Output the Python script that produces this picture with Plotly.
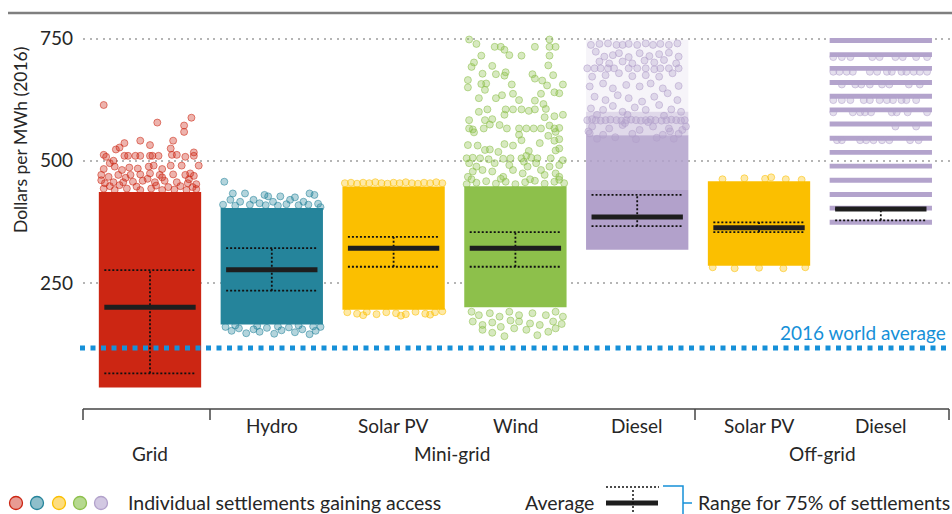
import plotly.graph_objects as go

# ---------------- data ----------------
categories = ["Grid", "Hydro", "Solar PV", "Wind", "Diesel", "Solar PV", "Diesel"]
group_labels = ["Mini-grid", "Off-grid"]
average = [200, 277, 321, 321, 385, 363, 401]
range_low = [65, 234, 283, 283, 366, 354, 378]
range_high = [276, 321, 344, 354, 430, 374, 401]
dense_low = [36, 165, 195, 200, 318, 285]
dense_high = [436, 403, 447, 448, 440, 458]
diesel_haze_low = [440, 552, 600]
diesel_haze_high = [552, 600, 748]
offgrid_diesel_bands = [374, 403, 431, 460, 489, 517, 546, 575, 604, 632, 660, 689, 717, 746]
world_average = 117

grid_j = [-0.38, 0.06, 0.34, 0.28, 0.28, 0.19, -0.08, -0.21, -0.25, -0.28, 0.00, 0.17, 0.36,
          -0.38, -0.36, -0.21, -0.18, -0.12, -0.08, 0.00, 0.02, 0.07, 0.18, 0.22, 0.29, 0.36,
          0.40, -0.30, -0.33, -0.38, -0.40, -0.29, -0.23, -0.17, -0.10, -0.01, 0.03, 0.10, 0.17, 0.26, 0.33, 0.36,
          -0.34, -0.26, -0.16, -0.08, 0.00, 0.08, 0.19, 0.29,
          -0.37, -0.30, -0.22, -0.14, -0.06, 0.04, 0.12, 0.22, 0.31, 0.38,
          -0.38, -0.29, -0.19, -0.08, 0.01, 0.10, 0.20, 0.30, 0.38,
          -0.33, -0.25, -0.11, 0.05, 0.15, 0.25, 0.35, -0.40, -0.02, 0.32, -0.20, 0.10]
grid_v = [614, 578, 588, 572, 559, 541, 541, 536, 527, 523, 532, 525, 517,
          512, 508, 510, 510, 510, 510, 510, 510, 510, 512, 512, 508, 510,
          490, 500, 495, 483, 471, 488, 481, 486, 484, 488, 490, 483, 490, 490, 474, 469,
          467, 471, 471, 472, 474, 471, 472, 471,
          454, 456, 456, 457, 459, 456, 459, 456, 454, 452,
          443, 440, 443, 440, 443, 440, 441, 440, 442,
          448, 450, 447, 449, 446, 448, 446, 460, 463, 462, 465, 466]

hydro_j = [-0.34, -0.32, -0.26, -0.22, -0.15, -0.10, -0.06, -0.03, 0.01, 0.07, 0.15, 0.19, 0.26, 0.31, 0.35,
           -0.39, -0.40, -0.30, -0.18, -0.05, 0.05, 0.12, 0.22, 0.30, 0.38, 0.40,
           -0.38, -0.33, -0.27, -0.21, -0.15, -0.10, -0.04, 0.02, 0.08, 0.14, 0.19, 0.25, 0.31, 0.36, 0.40,
           -0.30, -0.12, 0.05, 0.22, 0.34]
hydro_v = [420, 433, 416, 433, 420, 413, 430, 427, 416, 427, 420, 425, 416, 433, 430,
           457, 410, 408, 410, 409, 408, 411, 409, 410, 412, 405,
           160, 152, 157, 147, 155, 150, 158, 146, 153, 159, 149, 155, 145, 152, 160,
           163, 162, 161, 163, 161]

solar_j = [-0.40, -0.35, -0.30, -0.25, -0.20, -0.15, -0.10, -0.05, 0.00, 0.05, 0.10, 0.15, 0.20, 0.25, 0.30, 0.35, 0.40,
           -0.38, -0.30, -0.22, -0.14, -0.06, 0.02, 0.10, 0.18, 0.26, 0.34, 0.40, -0.25, 0.06, 0.30]
solar_v = [454, 455, 453, 455, 454, 456, 454, 453, 455, 454, 456, 454, 453, 455, 454, 456, 454,
           190, 187, 191, 186, 190, 188, 186, 191, 187, 190, 192, 184, 183, 185]

wind_j = [-0.38, -0.32, -0.17, -0.12, -0.09, -0.05, 0.05, 0.16, 0.28, 0.33, 0.28, -0.28, 0.28,
          -0.34, -0.36, -0.19, 0.27, -0.27, -0.16, -0.08, -0.09, 0.14, 0.31, 0.16, 0.22, 0.26,
          -0.39, -0.39, -0.28, -0.24, -0.25, -0.03, 0.39, 0.32, 0.36, 0.21, -0.02, -0.11, -0.16,
          -0.30, 0.03, 0.16, 0.23, -0.30, -0.23, -0.08, -0.02, 0.05, 0.11, 0.16, 0.25,
          0.39, 0.32, 0.24, -0.09, -0.38, -0.25, -0.19, -0.13, -0.21, -0.35, -0.38, -0.26,
          -0.07, 0.03, 0.09, 0.15, 0.21, 0.28, 0.32, 0.36, 0.33, 0.03, 0.27, 0.36, 0.32, 0.05,
          -0.34, -0.39, -0.31, -0.25, -0.21, -0.09, -0.02, 0.20, 0.36, 0.33, 0.11, -0.14,
          -0.40, -0.35, -0.29, -0.22, -0.10, -0.04, 0.05, 0.09, 0.13, 0.18, 0.29, 0.39,
          -0.38, -0.32, -0.17, -0.05, 0.07, 0.17, 0.28, 0.36,
          -0.35, -0.27, -0.19, -0.02, 0.10, 0.21, 0.33, -0.39, -0.10, 0.06, 0.24, 0.36,
          -0.40, -0.32, -0.24, -0.16, -0.08, 0.00, 0.08, 0.16, 0.24, 0.32, 0.40, -0.36, -0.12, 0.12, 0.36,
          -0.36, -0.30, -0.21, -0.13, -0.05, 0.03, 0.14, 0.25, 0.33, 0.39,
          -0.35, -0.27, -0.19, -0.12, -0.04, 0.03, 0.12, 0.20, 0.31, 0.38,
          -0.27, -0.19, -0.09, -0.01, 0.09, 0.18, 0.27, 0.33]
wind_v = [748, 739, 733, 733, 727, 716, 715, 733, 733, 733, 748, 715, 715,
          701, 692, 694, 695, 678, 677, 681, 674, 677, 675, 668, 664, 654,
          665, 650, 657, 658, 645, 656, 656, 640, 638, 637, 637, 634, 628,
          628, 624, 623, 616, 600, 605, 605, 605, 605, 602, 605, 606,
          594, 591, 589, 594, 583, 583, 585, 573, 574, 564, 566, 566,
          566, 566, 566, 566, 566, 572, 566, 567, 559, 553, 551, 544, 541, 542,
          558, 532, 531, 522, 523, 534, 531, 536, 525, 521, 520, 518,
          505, 506, 505, 503, 504, 505, 505, 510, 506, 505, 505, 501,
          495, 488, 495, 491, 498, 495, 488, 491,
          478, 481, 478, 481, 488, 481, 474, 467, 467, 474, 471, 467,
          452, 455, 458, 453, 457, 452, 456, 459, 453, 457, 454, 462, 463, 462, 461,
          191, 184, 188, 181, 191, 184, 188, 184, 191, 181,
          171, 164, 169, 160, 173, 171, 167, 164, 171, 166,
          154, 148, 141, 157, 154, 143, 150, 157]

diesel_j = [-0.38, -0.31, -0.24, -0.17, -0.12, -0.07, 0.00, 0.07, 0.13, 0.19, 0.26, 0.33,
            -0.34, -0.27, -0.20, -0.15, -0.07, 0.02, 0.10, 0.18, 0.26, 0.34,
            -0.31, -0.23, -0.12, -0.04, 0.06, 0.14, 0.22, 0.32,
            -0.41, -0.35, -0.30, -0.24, -0.19, -0.07, 0.00, 0.07, 0.14, 0.19, 0.26, 0.34,
            -0.37, -0.26, -0.15, -0.04, 0.07, 0.18, 0.29,
            -0.39, -0.28, -0.20, -0.09, 0.02, 0.11, 0.21, 0.34,
            -0.35, -0.26, -0.16, -0.07, 0.04, 0.14, 0.25, 0.33,
            -0.38, -0.28, -0.20, -0.12, -0.02, 0.07, 0.18, 0.28, 0.36, -0.33, -0.08, 0.22,
            -0.41, -0.34, -0.26, -0.17, -0.09, -0.01, 0.07, 0.15, 0.24, 0.32, 0.39,
            -0.37, -0.30, -0.22, -0.13, -0.05, 0.03, 0.11, 0.20, 0.28, 0.36,
            -0.37, -0.23, -0.12, 0.02, 0.13, 0.26, 0.37, -0.39, -0.28, -0.04, 0.21, 0.34,
            -0.33, -0.18, -0.01, 0.16, 0.30, -0.40, -0.10, 0.09, 0.27, 0.40]
diesel_v = [737, 739, 740, 737, 737, 739, 737, 740, 737, 739, 737, 740,
            723, 713, 716, 720, 712, 720, 714, 718, 721, 713,
            703, 699, 703, 699, 705, 701, 706, 699,
            689, 689, 689, 689, 689, 689, 689, 689, 687, 689, 689, 689,
            672, 675, 679, 673, 675, 672, 679,
            652, 658, 648, 655, 652, 658, 648, 653,
            631, 624, 634, 628, 621, 631, 638, 624,
            607, 604, 612, 600, 609, 604, 614, 605, 600, 594, 594, 592,
            583, 583, 583, 583, 583, 583, 583, 583, 583, 583, 583,
            585, 582, 584, 582, 584, 582, 584, 582, 584, 582,
            570, 566, 573, 563, 570, 566, 563, 556, 553, 555, 553, 555,
            545, 548, 544, 547, 545, 560, 577, 579, 560, 570]

offsolar_j = [-0.30, -0.12, 0.05, 0.10, 0.22, 0.35, -0.38, -0.20, 0.00, 0.20, 0.38]
offsolar_v = [462, 464, 463, 466, 462, 461, 282, 280, 281, 280, 282]

offdiesel_j = [-0.39, -0.32, -0.25, -0.07, -0.01, 0.12, 0.18, 0.29, 0.38,
               -0.39, -0.34, -0.28, -0.23, -0.09, -0.03, 0.05, 0.09, 0.17, 0.21, 0.27, 0.32, 0.38,
               -0.32, -0.21, -0.16, -0.09, 0.01, 0.07, 0.23, 0.32,
               -0.39, -0.32, -0.25, -0.14, -0.09, -0.01, 0.05, 0.10, 0.17, 0.21, 0.29,
               -0.39, -0.23, -0.17, -0.13, -0.08, 0.09, 0.13, 0.22, 0.38,
               0.12, 0.29,
               -0.36, -0.32, -0.17, -0.12, -0.06, 0.01, 0.07, 0.24, 0.31]
offdiesel_v = [712] * 9 + [682] * 13 + [656] * 8 + [624] * 11 + [599] * 9 + [570] * 2 + [542] * 9

# ---------------- styles ----------------
COLORS = ["#cc2613", "#25849b", "#fbbf00", "#8dc04b", "#b2a1cb", "#fbbf00", "#b3a3cc"]
RGB = [(204, 38, 19), (37, 132, 155), (251, 191, 0), (141, 192, 75), (178, 161, 203), (251, 191, 0), (179, 163, 204)]
LEGEND_FILL = ["#e89b93", "#8fbfcb", "#fddd7f", "#b6d98f", "#d2c8e2"]
HAZE_ALPHA = [0.85, 0.4, 0.12]
BLUE = "#1690d8"
FONT = "Lato"
TXT = "#262626"
HALF = 0.42
AVG_HALF = 0.375

W, H = 952, 514
ML, MR, MT, MB = 83, 2, 18, 105
PW, PH = W - ML - MR, H - MT - MB


def PX(x):
    return (x - ML) / PW


def PY(y):
    return (MT + PH - y) / PH


fig = go.Figure()

# dense cores
fig.add_trace(go.Bar(x=list(range(len(dense_low))), base=dense_low,
                     y=[h - l for l, h in zip(dense_low, dense_high)],
                     width=HALF * 2, marker=dict(color=COLORS[:len(dense_low)], line=dict(width=0)),
                     hoverinfo="skip"))
# diesel haze
r, g, b = RGB[4]
fig.add_trace(go.Bar(x=[4] * len(diesel_haze_low), base=diesel_haze_low,
                     y=[h - l for l, h in zip(diesel_haze_low, diesel_haze_high)],
                     width=HALF * 2,
                     marker=dict(color=[f"rgba({r},{g},{b},{a})" for a in HAZE_ALPHA], line=dict(width=0)),
                     hoverinfo="skip"))
# off-grid diesel bands
fig.add_trace(go.Bar(x=[6] * len(offgrid_diesel_bands), base=[v - 5 for v in offgrid_diesel_bands],
                     y=[10] * len(offgrid_diesel_bands), width=HALF * 2,
                     marker=dict(color=COLORS[6], line=dict(width=0)), hoverinfo="skip"))

# scattered settlements
point_sets = [(0, grid_j, grid_v), (1, hydro_j, hydro_v), (2, solar_j, solar_v), (3, wind_j, wind_v),
              (4, diesel_j, diesel_v), (5, offsolar_j, offsolar_v), (6, offdiesel_j, offdiesel_v)]
for idx, js, vs in point_sets:
    r, g, b = RGB[idx]
    fig.add_trace(go.Scatter(x=[idx + j for j in js], y=vs, mode="markers",
                             marker=dict(size=7, color=f"rgba({r},{g},{b},0.35)",
                                         line=dict(width=1, color=f"rgba({r},{g},{b},0.55)")),
                             hoverinfo="skip"))

# averages and ranges
for i in range(len(categories)):
    for v in (range_low[i], range_high[i]):
        fig.add_trace(go.Scatter(x=[i - AVG_HALF, i + AVG_HALF], y=[v, v], mode="lines",
                                 line=dict(color="#111111", width=1.8, dash="2px,2px"), hoverinfo="skip"))
    fig.add_trace(go.Scatter(x=[i, i], y=[range_low[i], range_high[i]], mode="lines",
                             line=dict(color="#111111", width=1.8, dash="2px,2px"), hoverinfo="skip"))
    fig.add_trace(go.Scatter(x=[i - AVG_HALF, i + AVG_HALF], y=[average[i], average[i]], mode="lines",
                             line=dict(color="#1e1e1e", width=5), hoverinfo="skip"))

shapes = []
# world average line
shapes.append(dict(type="line", xref="paper", yref="y", x0=PX(80), x1=PX(951), y0=world_average, y1=world_average,
                   line=dict(color=BLUE, width=5, dash="5px,5.5px")))
# top border
shapes.append(dict(type="line", xref="paper", yref="paper", x0=PX(8), x1=PX(952), y0=PY(13), y1=PY(13),
                   line=dict(color="#7f7f7f", width=2.5)))
# bottom bracket axis
shapes.append(dict(type="line", xref="paper", yref="paper", x0=PX(83), x1=PX(949), y0=PY(409), y1=PY(409),
                   line=dict(color="#444444", width=1.5)))
for tx in (83, 210, 695, 949):
    shapes.append(dict(type="line", xref="paper", yref="paper", x0=PX(tx), x1=PX(tx), y0=PY(409), y1=PY(420),
                       line=dict(color="#444444", width=1.5)))
# legend circles
for k, cx in enumerate([16, 37, 59, 80, 101]):
    shapes.append(dict(type="circle", xref="paper", yref="paper", xsizemode="pixel", ysizemode="pixel",
                       xanchor=PX(cx), yanchor=PY(503), x0=-6.5, x1=6.5, y0=-6.5, y1=6.5,
                       fillcolor=LEGEND_FILL[k], line=dict(color=COLORS[k], width=1.3)))
# legend average sample
shapes.append(dict(type="line", xref="paper", yref="paper", x0=PX(606), x1=PX(659), y0=PY(487), y1=PY(487),
                   line=dict(color="#111111", width=1.5, dash="2px,2px")))
shapes.append(dict(type="line", xref="paper", yref="paper", x0=PX(606), x1=PX(658), y0=PY(503), y1=PY(503),
                   line=dict(color="#1e1e1e", width=5)))
shapes.append(dict(type="line", xref="paper", yref="paper", x0=PX(633), x1=PX(633), y0=PY(490), y1=PY(514),
                   line=dict(color="#111111", width=1.5, dash="2px,2px")))
# legend bracket
shapes.append(dict(type="path", xref="paper", yref="paper",
                   path=f"M {PX(663)} {PY(486)} L {PX(683)} {PY(486)} L {PX(683)} {PY(514)}",
                   line=dict(color=BLUE, width=1.5)))
shapes.append(dict(type="line", xref="paper", yref="paper", x0=PX(683), x1=PX(692), y0=PY(503), y1=PY(503),
                   line=dict(color=BLUE, width=1.5)))

annotations = []
fs = 19
for i, c in enumerate(categories):
    if i == 0:
        continue
    annotations.append(dict(x=i, xref="x", y=PY(425), yref="paper", text=c, showarrow=False,
                            font=dict(size=fs, color=TXT, family=FONT), xanchor="center", yanchor="middle"))
annotations.append(dict(x=0, xref="x", y=PY(453), yref="paper", text=categories[0], showarrow=False,
                        font=dict(size=fs, color=TXT, family=FONT), xanchor="center", yanchor="middle"))
annotations.append(dict(x=PX(452), xref="paper", y=PY(453), yref="paper", text=group_labels[0], showarrow=False,
                        font=dict(size=fs, color=TXT, family=FONT), xanchor="center", yanchor="middle"))
annotations.append(dict(x=PX(822), xref="paper", y=PY(453), yref="paper", text=group_labels[1], showarrow=False,
                        font=dict(size=fs, color=TXT, family=FONT), xanchor="center", yanchor="middle"))
annotations.append(dict(x=PX(948), xref="paper", y=PY(332), yref="paper", text="2016 world average",
                        showarrow=False, font=dict(size=fs, color=BLUE, family=FONT),
                        xanchor="right", yanchor="middle"))
annotations.append(dict(x=PX(20), xref="paper", y=PY(140), yref="paper", text="Dollars per MWh (2016)",
                        textangle=-90, showarrow=False, font=dict(size=17.5, color=TXT, family=FONT),
                        xanchor="center", yanchor="middle"))
annotations.append(dict(x=PX(126), xref="paper", y=PY(503), yref="paper",
                        text="Individual settlements gaining access", showarrow=False,
                        font=dict(size=19.5, color=TXT, family=FONT), xanchor="left", yanchor="middle"))
annotations.append(dict(x=PX(596), xref="paper", y=PY(503), yref="paper", text="Average", showarrow=False,
                        font=dict(size=19.5, color=TXT, family=FONT), xanchor="right", yanchor="middle"))
annotations.append(dict(x=PX(696), xref="paper", y=PY(503), yref="paper", text="Range for 75% of settlements",
                        showarrow=False, font=dict(size=19.5, color=TXT, family=FONT),
                        xanchor="left", yanchor="middle"))

fig.update_layout(
    width=W, height=H, margin=dict(l=ML, r=MR, t=MT, b=MB),
    plot_bgcolor="white", paper_bgcolor="white", showlegend=False, barmode="overlay",
    font=dict(family=FONT, color=TXT),
    xaxis=dict(range=[-0.55, 6.568], showticklabels=False, showgrid=False, zeroline=False, showline=False,
               fixedrange=True),
    yaxis=dict(range=[-8, 792], tickvals=[250, 500, 750], ticks="", showline=False, zeroline=False,
               gridcolor="#b5b5b5", gridwidth=2, griddash="2px,4.5px",
               tickfont=dict(size=19, color=TXT, family=FONT), ticklabelstandoff=9, fixedrange=True),
    shapes=shapes, annotations=annotations,
)

fig.write_html("out.html", config={"displayModeBar": False},
               post_script="document.body.style.margin='0';document.body.style.overflow='hidden';")
